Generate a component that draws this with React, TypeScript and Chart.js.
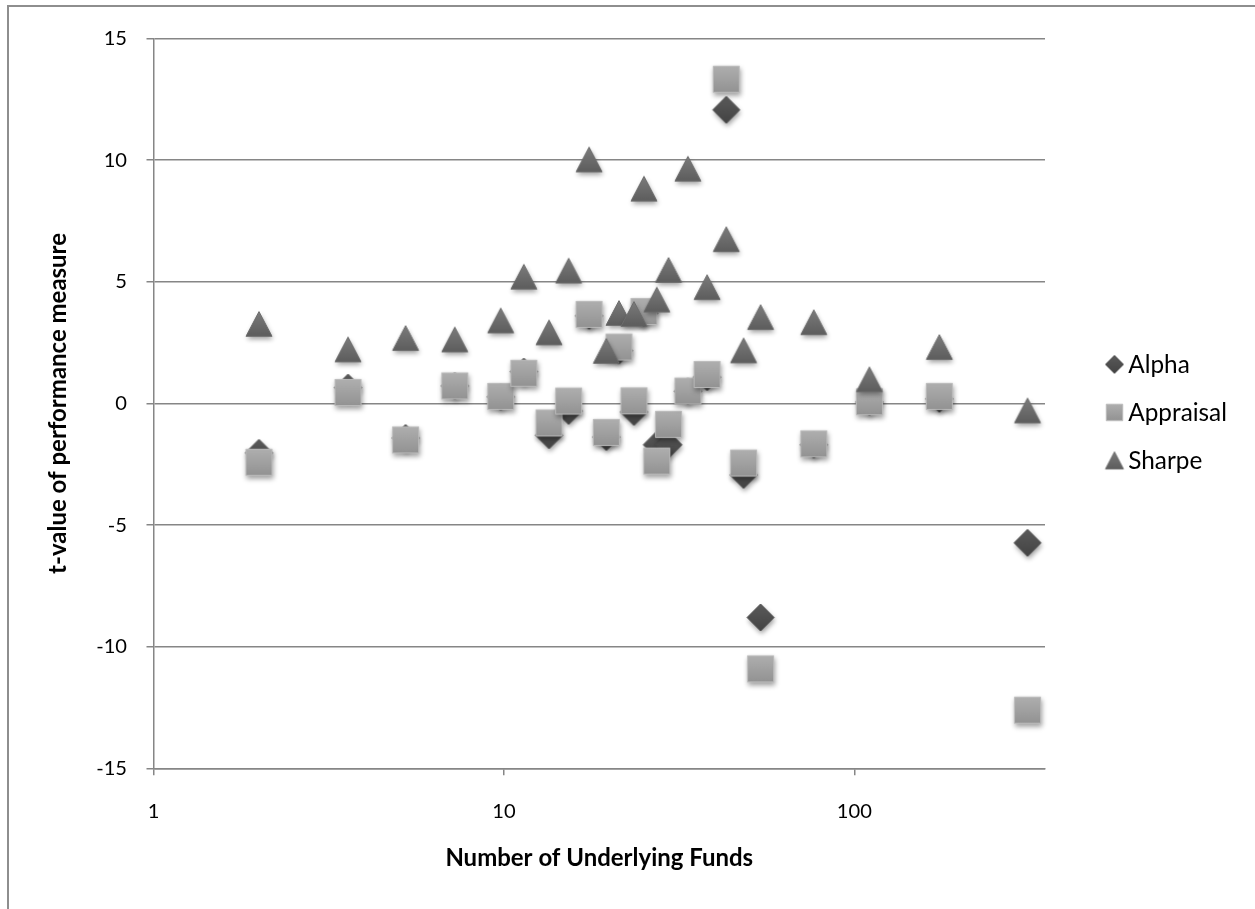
import React, { useEffect, useRef } from 'react';
import { Chart, registerables } from 'chart.js';

Chart.register(...registerables);

// ---- data ----
const fundCounts = [2.0, 3.59, 5.24, 7.24, 9.79, 11.4, 13.45, 15.3, 17.5, 19.6, 21.3, 23.5, 25.1, 27.3, 29.5, 33.5, 38.0, 43.1, 48.3, 54.0, 76.6, 110.4, 174.8, 312];
const alphaT = [-2.03, 0.65, -1.42, 0.72, 0.27, 1.31, -1.31, -0.31, 3.6, -1.38, 2.17, -0.35, 3.7, -1.7, -1.7, 0.5, 1.08, 12.07, -2.94, -8.8, -1.7, 0.06, 0.19, -5.73];
const appraisalT = [-2.42, 0.45, -1.5, 0.72, 0.29, 1.24, -0.8, 0.1, 3.66, -1.19, 2.32, 0.11, 3.78, -2.37, -0.86, 0.51, 1.19, 13.33, -2.45, -10.91, -1.66, 0.07, 0.29, -12.61];
const sharpeT = [3.27, 2.22, 2.69, 2.63, 3.41, 5.21, 2.92, 5.46, 10.03, 2.16, 3.72, 3.68, 8.83, 4.27, 5.49, 9.65, 4.78, 6.75, 2.18, 3.55, 3.34, 0.99, 2.32, -0.29];
const seriesNames = ['Alpha', 'Appraisal', 'Sharpe'];
const xTickValues = [1, 10, 100];
const X_MIN = 1;
const X_MAX = 350;
const Y_MIN = -15;
const Y_MAX = 15;
const Y_STEP = 5;
const xTitle = 'Number of Underlying Funds';
const yTitle = 't-value of performance measure';

// ---- styles ----
const FONT = 'Lato, "Open Sans", sans-serif';
const GRID = '#868686';
const CANVAS_W = 1246;
const CANVAS_H = 902;

function fitSize(text: string, weight: string, target: number) {
  const c = document.createElement('canvas').getContext('2d')!;
  c.font = `${weight} 100px ${FONT}`;
  return (100 * target) / c.measureText(text).width;
}

type Shape = 'diamond' | 'square' | 'triangle';

function makeMarker(shape: Shape, size: number, shadow: boolean): HTMLCanvasElement {
  const pad = shadow ? 9 : 2;
  const dim = Math.ceil(size + 2 * pad);
  const cv = document.createElement('canvas');
  cv.width = dim;
  cv.height = dim;
  const ctx = cv.getContext('2d')!;
  const c = dim / 2;
  const h = size / 2;
  const path = new Path2D();
  let top: string, bot: string, edge: string;
  if (shape === 'diamond') {
    path.moveTo(c, c - h);
    path.lineTo(c + h, c);
    path.lineTo(c, c + h);
    path.lineTo(c - h, c);
    path.closePath();
    top = '#5a5a5a'; bot = '#434343'; edge = '#4a4a4a';
  } else if (shape === 'square') {
    const s = size * 0.97;
    path.rect(c - s / 2, c - s / 2, s, s);
    top = '#afafaf'; bot = '#929292'; edge = '#bcbcbc';
  } else {
    const hh = h * 0.95;
    path.moveTo(c, c - hh);
    path.lineTo(c + h, c + hh);
    path.lineTo(c - h, c + hh);
    path.closePath();
    top = '#7c7c7c'; bot = '#5c5c5c'; edge = '#6c6c6c';
  }
  const g = ctx.createLinearGradient(0, c - h, 0, c + h);
  g.addColorStop(0, top);
  g.addColorStop(1, bot);
  if (shadow) {
    ctx.shadowColor = 'rgba(0,0,0,0.38)';
    ctx.shadowBlur = 5;
    ctx.shadowOffsetX = 1;
    ctx.shadowOffsetY = 3;
  }
  ctx.fillStyle = g;
  ctx.fill(path);
  ctx.shadowColor = 'transparent';
  ctx.strokeStyle = edge;
  ctx.lineWidth = 1;
  ctx.stroke(path);
  return cv;
}

export default function App() {
  const ref = useRef<HTMLCanvasElement | null>(null);

  useEffect(() => {
    const canvas = ref.current;
    if (!canvas) return;

    const tickFs = fitSize('100', 'normal', 35);
    const legendFs = fitSize('Sharpe', 'normal', 74);
    const titleFs = fitSize(xTitle, 'bold', 308);
    const tickLh = tickFs * 1.2;
    const titleLh = titleFs * 1.2;

    const plotLeft = 144.5;
    const plotTop = 28;
    const plotBottom = 761.3;
    const plotRight = 1036;

    const markers = [
      makeMarker('diamond', 27, true),
      makeMarker('square', 27, true),
      makeMarker('triangle', 26, true),
    ];
    const legendMarkers = [
      makeMarker('diamond', 18, false),
      makeMarker('square', 17, false),
      makeMarker('triangle', 18, false),
    ];
    const seriesValues = [alphaT, appraisalT, sharpeT];
    const orders = [3, 2, 1];

    const sideLegend = {
      id: 'sideLegend',
      afterDraw(chart: any) {
        const { ctx, chartArea } = chart;
        const mid = (chartArea.top + chartArea.bottom) / 2;
        const markerX = 1105.5;
        const textX = 1119.3;
        ctx.save();
        ctx.font = `normal ${legendFs}px ${FONT}`;
        ctx.fillStyle = '#000';
        ctx.textAlign = 'left';
        ctx.textBaseline = 'alphabetic';
        seriesNames.forEach((name, i) => {
          const cy = mid + 9 + (i - 1) * 48;
          const img = legendMarkers[i];
          ctx.drawImage(img, markerX - img.width / 2, cy - img.height / 2);
          ctx.fillText(name, textX, cy + legendFs * 0.358);
        });
        ctx.restore();
      },
    };

    const chart = new Chart(canvas, {
      type: 'scatter',
      data: {
        datasets: seriesNames.map((name, i) => ({
          label: name,
          data: fundCounts.map((x, j) => ({ x, y: seriesValues[i][j] })),
          pointStyle: markers[i] as any,
          pointRadius: 13,
          pointHoverRadius: 13,
          order: orders[i],
          clip: false as any,
          showLine: false,
        })),
      },
      options: {
        animation: false,
        responsive: false,
        devicePixelRatio: 1,
        events: [],
        layout: {
          padding: { left: 0, top: plotTop, right: CANVAS_W - plotRight, bottom: 0 },
        },
        plugins: {
          legend: { display: false },
          tooltip: { enabled: false },
        },
        scales: {
          x: {
            type: 'logarithmic',
            min: X_MIN,
            max: X_MAX,
            afterBuildTicks: (s: any) => {
              s.ticks = xTickValues.map((v) => ({ value: v }));
            },
            afterFit: (s: any) => {
              s.height = CANVAS_H - plotBottom;
            },
            ticks: {
              autoSkip: false,
              maxRotation: 0,
              color: '#000',
              font: { family: FONT, size: tickFs },
              padding: 36.4 - tickLh / 2,
              callback: (v: any) => String(v),
            },
            grid: {
              drawOnChartArea: false,
              drawTicks: true,
              tickLength: 7,
              color: GRID,
              lineWidth: 1.5,
            },
            border: { display: true, color: GRID, width: 1.5 },
            title: {
              display: true,
              text: xTitle,
              color: '#000',
              font: { family: FONT, size: titleFs, weight: 'bold' },
              padding: { top: 0, bottom: CANVAS_H - 852.2 + 0.03 * titleFs - titleLh / 2 },
            },
          },
          y: {
            type: 'linear',
            min: Y_MIN,
            max: Y_MAX,
            afterFit: (s: any) => {
              s.width = plotLeft;
            },
            ticks: {
              stepSize: Y_STEP,
              color: '#000',
              font: { family: FONT, size: tickFs },
              padding: 19.5,
              callback: (v: any) => String(v),
            },
            grid: {
              color: GRID,
              lineWidth: 1.5,
              tickLength: 7,
              drawTicks: true,
            },
            border: { display: true, color: GRID, width: 1.5 },
            title: {
              display: true,
              text: yTitle,
              color: '#000',
              font: { family: FONT, size: titleFs, weight: 'bold' },
              padding: { top: 49 - titleLh / 2, bottom: 0 },
            },
          },
        },
      },
      plugins: [sideLegend],
    } as any);

    return () => chart.destroy();
  }, []);

  return (
    <div
      style={{
        position: 'absolute',
        left: 7,
        top: 5,
        width: 1248,
        height: 904,
        boxSizing: 'border-box',
        borderTop: '2px solid #8e8e8e',
        borderLeft: '2px solid #8e8e8e',
        background: '#fff',
        overflow: 'hidden',
      }}
    >
      <canvas
        ref={ref}
        width={CANVAS_W}
        height={CANVAS_H}
        style={{ display: 'block', width: CANVAS_W, height: CANVAS_H }}
      />
    </div>
  );
}
